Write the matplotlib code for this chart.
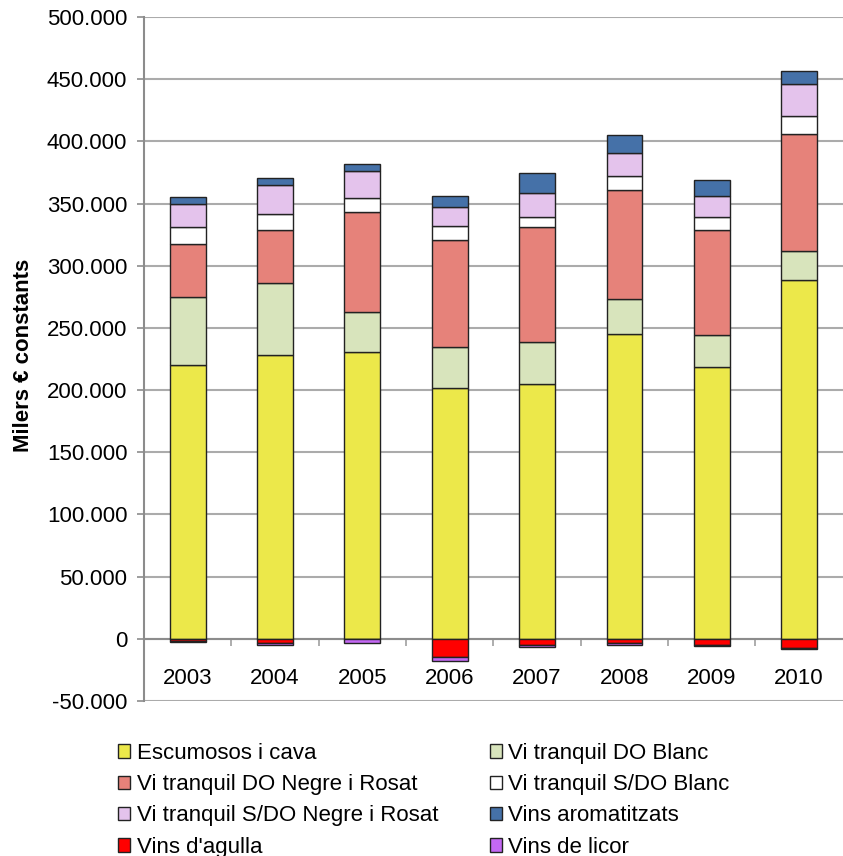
import numpy as np
import matplotlib.pyplot as plt
from matplotlib.ticker import FuncFormatter, FixedLocator

plt.rcParams['font.family'] = ['Liberation Sans', 'DejaVu Sans']

# Data (milers d'euros constants)
years = ['2003', '2004', '2005', '2006', '2007', '2008', '2009', '2010']
escumosos = [220000, 228500, 231000, 201800, 205000, 245000, 218700, 288600]
do_blanc = [55000, 57700, 32000, 33200, 33800, 28400, 26000, 23100]
do_negre = [42800, 42400, 80000, 85800, 92000, 87600, 84100, 94100]
sdo_blanc = [13200, 13400, 11500, 11500, 8600, 11500, 10500, 14500]
sdo_negre = [19000, 23000, 21700, 15000, 18700, 18000, 17000, 26200]
aromatitzats = [5600, 5600, 5600, 9100, 16700, 14500, 12600, 10200]
agulla = [-2000, -3000, -300, -14700, -4800, -3200, -5300, -7000]
licor = [-800, -2000, -3000, -3200, -2000, -2100, -800, -1000]

names = ['Escumosos i cava', 'Vi tranquil DO Blanc', 'Vi tranquil DO Negre i Rosat',
         'Vi tranquil S/DO Blanc', 'Vi tranquil S/DO Negre i Rosat', 'Vins aromatitzats',
         "Vins d'agulla", 'Vins de licor']
series = [escumosos, do_blanc, do_negre, sdo_blanc, sdo_negre, aromatitzats, agulla, licor]
colors = ['#ECE84A', '#D8E4BC', '#E6827A', '#FFFFFF', '#E4C3EC', '#4571A8', '#FF0000', '#C468F4']

FS = 16
fig = plt.figure(figsize=(8.43, 8.56), dpi=100)
ax = fig.add_axes([0.1708, 0.1811, 0.829, 0.799])

x = np.arange(len(years))
pos_base = np.zeros(len(years))
neg_base = np.zeros(len(years))
handles = []
for vals, name, col in zip(series, names, colors):
    v = np.array(vals, dtype=float)
    base = np.where(v >= 0, pos_base, neg_base)
    h = ax.bar(x, v, 0.41, bottom=base, color=col, edgecolor='#222222',
               linewidth=1.0, label=name, zorder=3)
    handles.append(h)
    pos_base += np.where(v >= 0, v, 0)
    neg_base += np.where(v < 0, v, 0)

ax.set_xlim(-0.5, 7.5)
ax.set_ylim(-50000, 500000)
ax.set_yticks(np.arange(-50000, 500001, 50000))
ax.yaxis.set_major_formatter(FuncFormatter(lambda v, p: f"{int(v):,}".replace(',', '.')))
ax.yaxis.grid(True, color='#ABABAB', linewidth=1.5, zorder=0)
ax.set_axisbelow(True)

for s in ['top', 'right']:
    ax.spines[s].set_visible(False)
ax.spines['bottom'].set_position(('data', 0))
ax.spines['bottom'].set_color('#8C8C8C')
ax.spines['bottom'].set_linewidth(1.5)
ax.spines['bottom'].set_zorder(2)
ax.spines['left'].set_color('#8C8C8C')
ax.spines['left'].set_linewidth(1.5)

ax.set_xticks(x)
ax.set_xticklabels(years, fontsize=FS)
ax.xaxis.set_minor_locator(FixedLocator(np.arange(0.5, 7.0, 1.0)))
ax.tick_params(axis='x', which='major', length=0, pad=21)
ax.tick_params(axis='x', which='minor', length=5, width=1.2, color='#A0A0A0', direction='out')
ax.tick_params(axis='y', length=5, width=1.2, color='#8C8C8C', labelsize=FS, pad=7)

ax.set_ylabel('Milers € constants', fontsize=FS, fontweight='bold')
ax.yaxis.set_label_coords(-0.157, 0.505)

order = [0, 2, 4, 6, 1, 3, 5, 7]
fig.legend([handles[i] for i in order], [names[i] for i in order],
           loc='upper left', bbox_to_anchor=(118 / 843, 1 - 743 / 856), ncol=2,
           frameon=False, fontsize=FS, handlelength=0.55, handleheight=0.55,
           handletextpad=0.3, columnspacing=2.3, labelspacing=0.46,
           borderpad=0, borderaxespad=0)

fig.savefig('out.png', dpi=100)
